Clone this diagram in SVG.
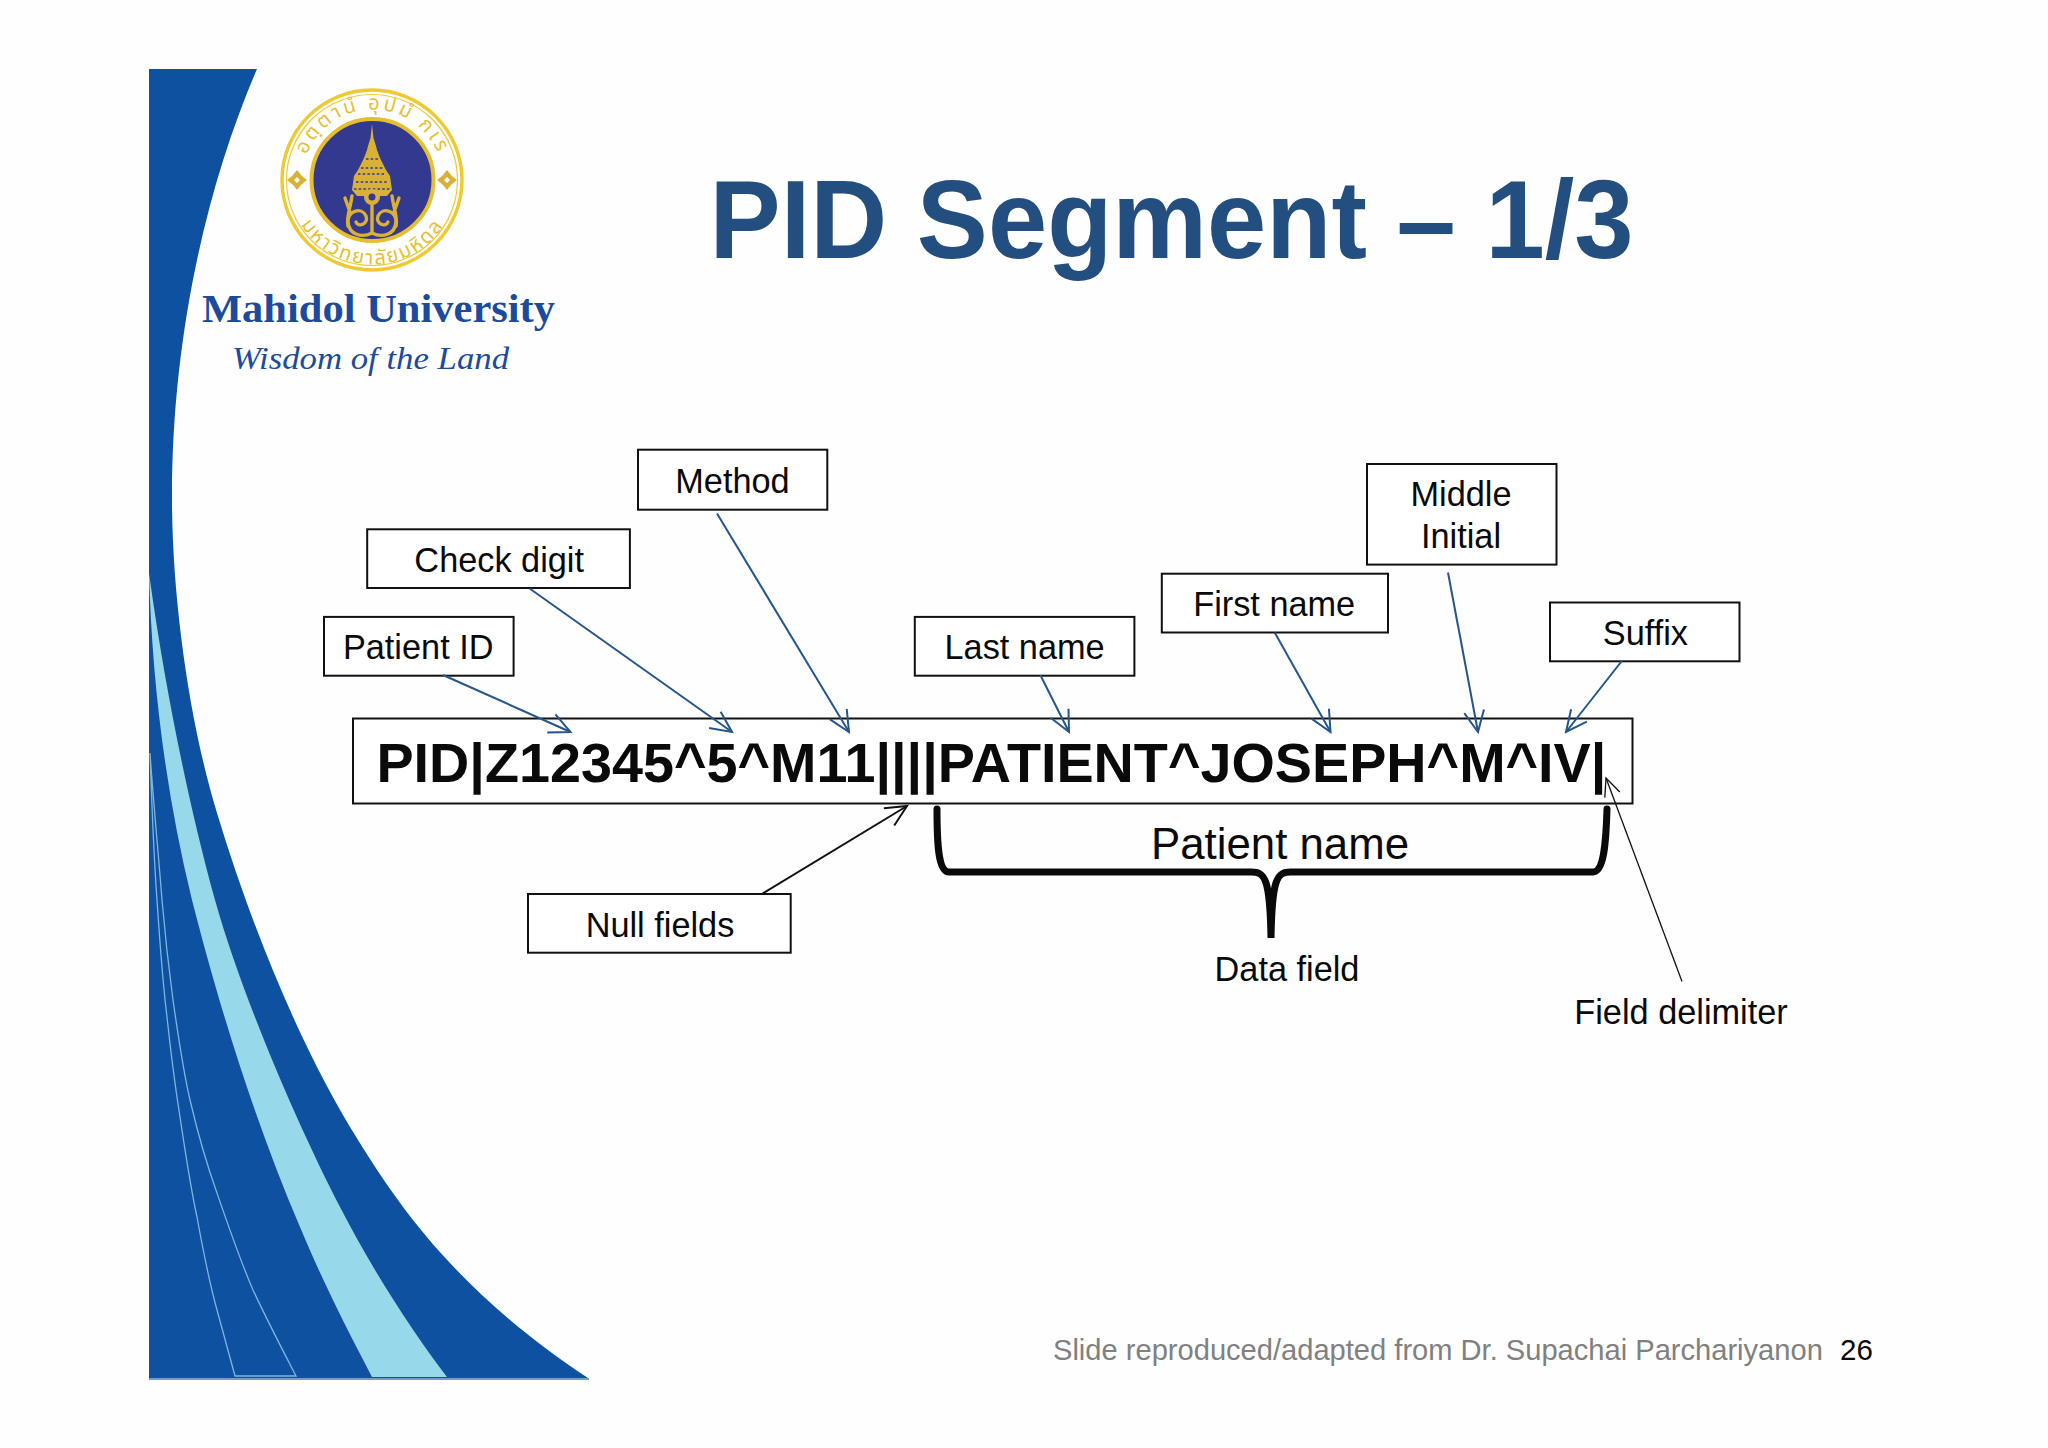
<svg xmlns="http://www.w3.org/2000/svg" width="2048" height="1448" viewBox="0 0 2048 1448">
<defs>
<style>
.lbl{font-family:"Liberation Sans",Arial,sans-serif;font-size:34.3px;fill:#0a0a0a;text-anchor:middle}
.box{fill:#fff;stroke:#111;stroke-width:2}
.c{fill:none;stroke:#24568c;stroke-width:2}
.k{fill:none;stroke:#111;stroke-width:2}
.thin{fill:none;stroke:#7fb6dd;stroke-width:1.3}
.gold{fill:#d8b136}
.swirl{fill:none;stroke:#d8b136;stroke-width:3.4;stroke-linecap:round}
.thai{font-family:"Noto Sans Thai","Noto Sans","DejaVu Sans",sans-serif;font-size:20px;fill:#e6bf30;letter-spacing:3px}
</style>
<marker id="ab" markerUnits="userSpaceOnUse" markerWidth="30" markerHeight="30" refX="24" refY="15" orient="auto" viewBox="0 0 30 30"><path d="M3,5 L24,15 L3,25" fill="none" stroke="#24568c" stroke-width="2"/></marker>
<marker id="ak" markerUnits="userSpaceOnUse" markerWidth="30" markerHeight="30" refX="24" refY="15" orient="auto" viewBox="0 0 30 30"><path d="M3,5 L24,15 L3,25" fill="none" stroke="#111" stroke-width="2"/></marker>
<marker id="at" markerUnits="userSpaceOnUse" markerWidth="30" markerHeight="30" refX="24" refY="15" orient="auto" viewBox="0 0 30 30"><path d="M6,7 L24,15 L6,23" fill="none" stroke="#111" stroke-width="1.3"/></marker>
<path id="arcTop" d="M302,180 A70.5,70.5 0 0 1 443,180"/>
<path id="arcBot" d="M288,180 A84.5,84.5 0 0 0 457,180"/>
</defs>
<rect width="2048" height="1448" fill="#fefefe"/>
<g id="swoosh">
<path d="M149,69 L257,69 C205,190 172,340 172,498 C172,600 190,725 217,813 C257,945 308,1060 358,1140 C398,1204 455,1290 588,1378 L149,1378 Z" fill="#0d51a0"/>
<path d="M149,573 C152,680 165,790 192,900 C215,990 250,1110 300,1227 C322,1280 345,1325 372,1377 L447,1377 C415,1335 375,1275 340,1207 C295,1120 240,990 215,900 C190,810 165,690 149,573 Z" fill="#97d8ea"/>
<path class="thin" d="M150,753 C152,810 154,860 157,900 C160,945 163,985 167,1017 C171,1055 175,1085 180,1117 C185,1150 190,1185 197,1217 C203,1250 210,1285 217,1310 L235,1376 L296,1376 C280,1345 268,1322 253,1290 C240,1260 228,1225 217,1193 C207,1165 197,1130 190,1100 C183,1070 178,1035 173,1000 C169,970 165,935 162,900 C159,860 154,810 150,753 Z"/>
<line x1="149" y1="1379" x2="589" y2="1379" stroke="#3a7cc0" stroke-width="1.6"/>
</g>
<g id="logo">
<circle cx="372" cy="180" r="90" fill="#fff" stroke="#efc92f" stroke-width="3.4"/>
<circle cx="372" cy="180" r="85.5" fill="none" stroke="#efc92f" stroke-width="1.2"/>
<circle cx="372.5" cy="180" r="61" fill="#33398f" stroke="#e6bf30" stroke-width="4"/>
<text class="thai"><textPath href="#arcTop" startOffset="50%" text-anchor="middle">อตฺตานํ   อุปมํ   กเร</textPath></text>
<text class="thai" style="letter-spacing:2px"><textPath href="#arcBot" startOffset="50%" text-anchor="middle">มหาวิทยาลัยมหิดล</textPath></text>
<path class="gold" d="M297,170 Q301,176 307,180 Q301,184 297,190 Q293,184 287,180 Q293,176 297,170 Z M447,170 Q451,176 457,180 Q451,184 447,190 Q443,184 437,180 Q443,176 447,170 Z"/>
<path d="M297,177 L300,180 L297,183 L294,180 Z M447,177 L450,180 L447,183 L444,180 Z" fill="#fff"/>
<path class="gold" d="M372,124 L373.5,138 L376,146 L377,150 L380,158 L386,170 L390,176 L392,190 L387,196 L357,196 L352,190 L354,176 L358,170 L364,158 L367,150 L368,146 L370.5,138 Z"/>
<path d="M361,168 H383 M358,174 H386 M366,159 H378 M356,182 H388 M354,189 H390" stroke="#33398f" stroke-width="1.5" stroke-dasharray="2.5 2.2" fill="none"/>
<circle cx="372" cy="197" r="8" fill="#d8b136"/>
<circle cx="372" cy="197" r="3.5" fill="#33398f"/>
<path class="swirl" d="M352,196 C350,210 346,218 348,226 M392,196 C394,210 398,218 396,226 M345,198 L350,212 M399,198 L394,212"/>
<path class="swirl" d="M372,233 C362,238 349,235 348,222 C348,210 362,207 366,216 C369,224 358,228 356,222 M372,233 C382,238 395,235 396,222 C396,210 382,207 378,216 C375,224 386,228 388,222 M372,205 L372,233"/>
<text x="202" y="322" font-family="Liberation Serif,serif" font-weight="bold" font-size="39.5" textLength="353" lengthAdjust="spacingAndGlyphs" fill="#1c4a9c">Mahidol University</text>
<text x="232" y="368.5" font-family="Liberation Serif,serif" font-style="italic" font-size="32" textLength="277" lengthAdjust="spacingAndGlyphs" fill="#1c4a9c">Wisdom of the Land</text>
</g>
<g id="title"><text x="709.6" y="258" font-family="Liberation Sans,sans-serif" font-weight="bold" font-size="112" textLength="924" lengthAdjust="spacingAndGlyphs" fill="#234f80">PID Segment – 1/3</text></g>
<g id="segment">
<rect x="353" y="718.5" width="1279.5" height="85" fill="#fff" stroke="#111" stroke-width="2"/>
<text x="376.4" y="782" font-family="Liberation Sans,sans-serif" font-weight="bold" font-size="56" textLength="1230" lengthAdjust="spacingAndGlyphs" fill="#0a0a0a">PID|Z12345^5^M11||||PATIENT^JOSEPH^M^IV|</text>
</g>
<g id="n-method"><rect class="box" x="638" y="449.7" width="189.3" height="60"/><text class="lbl" x="732.5" y="492.5">Method</text></g>
<g id="n-check"><rect class="box" x="367.2" y="529.3" width="262.7" height="58.7"/><text class="lbl" x="499.2" y="571.5">Check digit</text></g>
<g id="n-patient-id"><rect class="box" x="324" y="616.9" width="189.6" height="58.8"/><text class="lbl" x="418.2" y="659">Patient ID</text></g>
<g id="n-last"><rect class="box" x="914.8" y="616.9" width="219.6" height="58.8"/><text class="lbl" x="1024.6" y="659">Last name</text></g>
<g id="n-first"><rect class="box" x="1161.8" y="573.7" width="226.2" height="58.8"/><text class="lbl" x="1274.2" y="615.5">First name</text></g>
<g id="n-middle"><rect class="box" x="1367" y="464" width="189.5" height="100.6"/><text class="lbl" x="1461" y="505.5">Middle</text><text class="lbl" x="1461" y="547.5">Initial</text></g>
<g id="n-suffix"><rect class="box" x="1550" y="602.5" width="189.5" height="58.8"/><text class="lbl" x="1645.4" y="644.5">Suffix</text></g>
<g id="n-null"><rect class="box" x="528" y="894" width="262.7" height="58.7"/><text class="lbl" x="660" y="936.5">Null fields</text></g>
<g id="n-patient-name"><text x="1280" y="858.5" font-family="Liberation Sans,sans-serif" font-size="43.8" fill="#0a0a0a" text-anchor="middle">Patient name</text></g>
<g id="n-data-field"><text class="lbl" x="1287" y="980.5">Data field</text></g>
<g id="n-field-delimiter"><text class="lbl" x="1681" y="1024">Field delimiter</text></g>
<g id="connectors">
<line class="c" marker-end="url(#ab)" x1="443" y1="675" x2="570.5" y2="732"/>
<line class="c" marker-end="url(#ab)" x1="529.6" y1="588.5" x2="732" y2="732"/>
<line class="c" marker-end="url(#ab)" x1="717" y1="513.5" x2="849" y2="732"/>
<line class="c" marker-end="url(#ab)" x1="1040.3" y1="675" x2="1069" y2="732"/>
<line class="c" marker-end="url(#ab)" x1="1274.7" y1="632.5" x2="1330.5" y2="732"/>
<line class="c" marker-end="url(#ab)" x1="1448" y1="572.5" x2="1478" y2="732"/>
<line class="c" marker-end="url(#ab)" x1="1621.8" y1="661" x2="1566" y2="732"/>
<line class="k" marker-end="url(#ak)" x1="762" y1="894" x2="907" y2="806"/>
<line class="k" style="stroke-width:1.3" marker-end="url(#at)" x1="1682" y1="981.5" x2="1606" y2="778"/>
<path fill="none" stroke="#0a0a0a" stroke-width="7" stroke-linecap="round" d="M937,809 C937,843 938,872 949,872 L1251,872 C1265,872 1270,878 1271,938 C1272,878 1277,872 1291,872 L1593,872 C1604,872 1606,843 1607,809"/>
</g>
<g id="footer">
<text x="1053" y="1360" font-family="Liberation Sans,sans-serif" font-size="29.1" fill="#808080">Slide reproduced/adapted from Dr. Supachai Parchariyanon</text>
<text x="1840" y="1360" font-family="Liberation Sans,sans-serif" font-size="29.5" fill="#0a0a0a">26</text>
</g>
</svg>
